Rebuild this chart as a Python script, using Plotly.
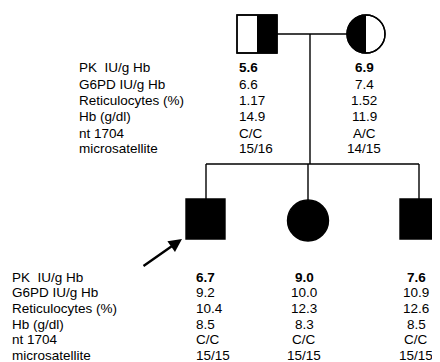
import numpy as np
import plotly.graph_objects as go

# ---- data ----
row_labels = ["PK  IU/g Hb", "G6PD IU/g Hb", "Reticulocytes (%)", "Hb (g/dl)", "nt 1704", "microsatellite"]
father = ["5.6", "6.6", "1.17", "14.9", "C/C", "15/16"]
mother = ["6.9", "7.4", "1.52", "11.9", "A/C", "14/15"]
child1 = ["6.7", "9.2", "10.4", "8.5", "C/C", "15/15"]
child2 = ["9.0", "10.0", "12.3", "8.3", "C/C", "15/15"]
child3 = ["7.6", "10.9", "12.6", "8.5", "C/C", "15/15"]
bold_rows = [0]

W, H = 440, 362
PAD = 8  # default page body margin
FONT = "Liberation Sans, Arial, sans-serif"
FS = 13.5
LW = 1.4

fig = go.Figure()
shapes = []
annotations = []

def line(x0, y0, x1, y1):
    shapes.append(dict(type="line", x0=x0, y0=y0, x1=x1, y1=y1,
                       line=dict(color="black", width=LW)))

def rect(x0, y0, x1, y1, fill):
    shapes.append(dict(type="rect", x0=x0, y0=y0, x1=x1, y1=y1,
                       fillcolor=fill, line=dict(color="black", width=LW)))

def circle(cx, cy, r, fill):
    shapes.append(dict(type="circle", x0=cx - r, y0=cy - r, x1=cx + r, y1=cy + r,
                       fillcolor=fill, line=dict(color="black", width=LW)))

def half_circle_left(cx, cy, r):
    t = np.linspace(np.pi / 2, 3 * np.pi / 2, 40)
    pts = [(cx + r * np.cos(a), cy - r * np.sin(a)) for a in t]
    path = "M " + " L ".join(f"{x:.2f},{y:.2f}" for x, y in pts) + " Z"
    shapes.append(dict(type="path", path=path, fillcolor="black",
                       line=dict(color="black", width=0)))

# parents
fx0, fx1, py0, py1 = 237, 277, 15, 53
rect(fx0, py0, fx1, py1, "white")
shapes.append(dict(type="rect", x0=(fx0 + fx1) / 2, y0=py0, x1=fx1, y1=py1,
                   fillcolor="black", line=dict(color="black", width=0)))
rect(fx0, py0, fx1, py1, "rgba(0,0,0,0)")

mcx, mcy, mr = 366, 34, 19
circle(mcx, mcy, mr, "white")
half_circle_left(mcx, mcy, mr)
circle(mcx, mcy, mr, "rgba(0,0,0,0)")

# connecting lines
line(fx1, mcy, mcx - mr, mcy)
line(310, mcy, 310, 164)
line(206, 164, 419, 164)
line(206, 164, 206, 199)
line(308, 164, 308, 200)
line(419, 164, 419, 199)

# children
rect(186, 199, 225, 239, "black")
circle(308, 220.5, 20.5, "black")
rect(400, 199, 439, 239, "black")

# proband arrow
annotations.append(dict(x=182, y=239, ax=142, ay=267, xref="x", yref="y",
                        axref="x", ayref="y", showarrow=True, arrowhead=2,
                        arrowsize=1.1, arrowwidth=2.4, arrowcolor="black", text=""))

def add_text(x, y, s, anchor, bold=False):
    annotations.append(dict(x=x, y=y, xref="x", yref="y", text=f"<b>{s}</b>" if bold else s,
                            showarrow=False, xanchor=anchor, yanchor="middle",
                            font=dict(family=FONT, size=FS, color="black")))

parent_rows_y = [67, 84, 100, 116, 133, 148]
child_rows_y = [277, 292, 308, 324, 339, 355]

for i, lab in enumerate(row_labels):
    b = i in bold_rows
    add_text(77, parent_rows_y[i], lab, "left")
    add_text(237, parent_rows_y[i], father[i], "left", b)
    add_text(364, parent_rows_y[i], mother[i], "center", b)
    add_text(10, child_rows_y[i], lab, "left")
    add_text(194, child_rows_y[i], child1[i], "left", b)
    add_text(304, child_rows_y[i], child2[i], "center", b)
    add_text(416, child_rows_y[i], child3[i], "center", b)

fig.update_layout(
    width=W - PAD, height=H - PAD, margin=dict(l=0, r=0, t=0, b=0),
    plot_bgcolor="white", paper_bgcolor="white",
    xaxis=dict(range=[PAD, W], visible=False, fixedrange=True),
    yaxis=dict(range=[H, PAD], visible=False, fixedrange=True),
    shapes=shapes, annotations=annotations, showlegend=False,
)
fig.write_html("out.html")
